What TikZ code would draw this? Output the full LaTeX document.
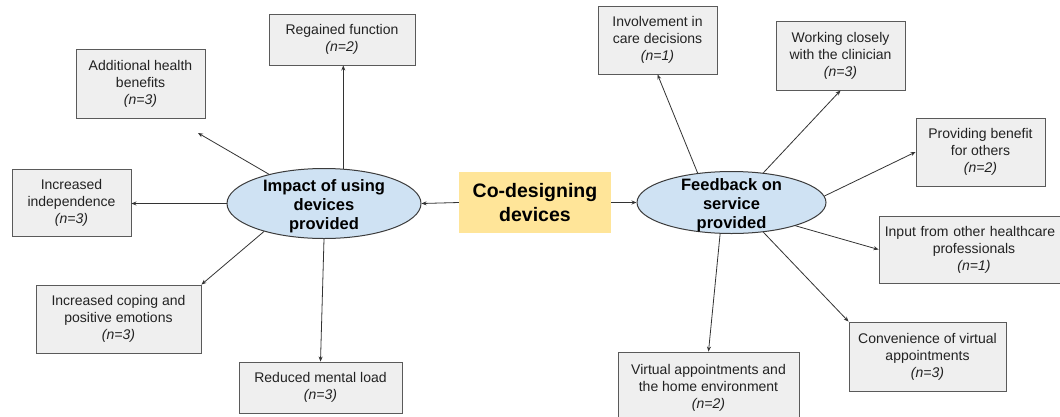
\documentclass[tikz,border=0pt]{standalone}
\usepackage{fontspec}
\setmainfont{Liberation Sans}
\usetikzlibrary{shapes.geometric,arrows.meta}
\definecolor{boxfill}{HTML}{EFEFEF}
\definecolor{boxline}{HTML}{5A5A5A}
\definecolor{ellfill}{HTML}{CFE2F3}
\definecolor{ellline}{HTML}{3C3C3C}
\definecolor{corefill}{HTML}{FFE599}
\definecolor{txt}{HTML}{222222}
\definecolor{arrcol}{HTML}{333333}
\tikzset{
  theme/.style={draw=boxline, fill=boxfill, line width=0.9pt, inner sep=0pt,
    align=center, text=txt, font=\fontsize{14}{17}\selectfont},
  hub/.style={ellipse, draw=ellline, fill=ellfill, line width=1pt, inner sep=0pt},
  hubtext/.style={align=center, text=black, font=\bfseries\fontsize{16.5}{19}\selectfont},
  core/.style={fill=corefill, inner sep=0pt, align=center, text=black,
    font=\bfseries\fontsize{19.5}{23.5}\selectfont},
  link/.style={draw=arrcol, line width=0.8pt, -{Stealth[length=5pt,width=4pt]}}
}
\begin{document}
\begin{tikzpicture}[x=1pt,y=-1pt]
\useasboundingbox (0,0) rectangle (1060,416);
\clip (0,0) rectangle (1060,416);
\fill[white] (0,0) rectangle (1060,416);

% central topic and the two themes
\node[core, minimum width=152pt, minimum height=61pt] (core) at (535,202.5)
  {Co-designing\\devices};
\node[hub, minimum width=194pt, minimum height=70pt] (imp) at (324,203.5) {};
\node[hubtext] at ([yshift=-2.5pt]imp.center) {Impact of using\\devices\\provided};
\node[hub, minimum width=189pt, minimum height=62pt] (fb) at (731.5,202.5) {};
\node[hubtext] at ([yshift=-3pt]fb.center) {Feedback on\\service\\provided};

% sub-themes of the impact of the devices
\node[theme, minimum width=146pt, minimum height=50.5pt] (regained) at (342,39.75)
  {Regained function\\\textit{(n=2)}};
\node[theme, minimum width=129pt, minimum height=69pt] (additional) at (140.5,83.5)
  {Additional health\\benefits\\\textit{(n=3)}};
\node[theme, minimum width=119pt, minimum height=67pt] (indep) at (71.5,202.5)
  {Increased\\independence\\\textit{(n=3)}};
\node[theme, minimum width=165pt, minimum height=68pt] (coping) at (118.5,319)
  {Increased coping and\\positive emotions\\\textit{(n=3)}};
\node[theme, minimum width=163pt, minimum height=51pt] (reduced) at (320.5,387.5)
  {Reduced mental load\\\textit{(n=3)}};

% sub-themes of the feedback on the service
\node[theme, minimum width=119pt, minimum height=68pt] (involve) at (657.5,40)
  {Involvement in\\care decisions\\\textit{(n=1)}};
\node[theme, minimum width=129pt, minimum height=69pt] (working) at (840.5,55.5)
  {Working closely\\with the clinician\\\textit{(n=3)}};
\node[theme, minimum width=129pt, minimum height=68pt] (providing) at (980.5,152)
  {Providing benefit\\for others\\\textit{(n=2)}};
\node[theme, minimum width=190pt, minimum height=67pt, text width=184pt] (input) at (974,249.5)
  {\hspace*{-8pt}Input from other healthcare\\professionals\\\textit{(n=1)}};
\node[theme, minimum width=157pt, minimum height=69pt] (conv) at (927.5,356.5)
  {Convenience of virtual\\appointments\\\textit{(n=3)}};
\node[theme, minimum width=181pt, minimum height=72pt] (virtual) at (708.5,388)
  {Virtual appointments and\\the home environment\\\textit{(n=2)}};

\coordinate (addend) at (198,133);

% connectors
\draw[link] (core.west) -- (imp.east);
\draw[link] (core.east) -- (fb.west);

\draw[link] (imp.61) -- (imp.61 |- regained.south);
\draw[link] (imp.152) -- (addend);
\draw[link] (imp.west) -- (imp.west -| indep.east);
\draw[link] (imp.205) -- (coping.north east);
\draw[link] (imp.south) -- (reduced.north);

\draw[link] (fb.139) -- (involve.south);
\draw[link] (fb.43) -- (working.south);
\draw[link] (fb.4) -- (providing.west);
\draw[link] (fb.340) -- (input.west);
\draw[link] (fb.317) -- (conv.north west);
\draw[link] (fb.250) -- (virtual.north);
\end{tikzpicture}
\end{document}
